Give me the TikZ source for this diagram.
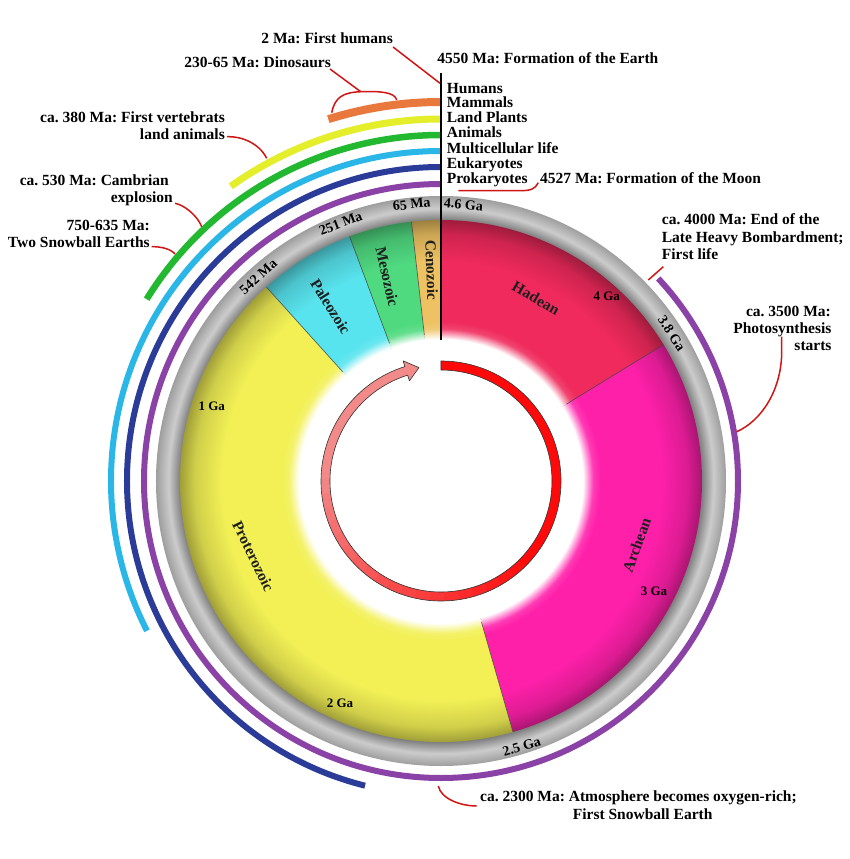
\documentclass[tikz,border=0pt]{standalone}
\usepackage{fontspec}
\setmainfont{Liberation Serif}
\frenchspacing
\definecolor{cHad}{HTML}{F02A5C}
\definecolor{cArc}{HTML}{FF20AA}
\definecolor{cPro}{HTML}{F2F055}
\definecolor{cPal}{HTML}{58E4EE}
\definecolor{cMes}{HTML}{50DA80}
\definecolor{cCen}{HTML}{EEC262}
\definecolor{lPurp}{HTML}{8A42A6}
\definecolor{lBlue}{HTML}{2A3C98}
\definecolor{lCyan}{HTML}{2AB6E6}
\definecolor{lGreen}{HTML}{22B830}
\definecolor{lYell}{HTML}{E4EE2A}
\definecolor{lOran}{HTML}{E8783C}
\definecolor{callred}{HTML}{D01515}
\definecolor{arrowred}{HTML}{FF0A0A}
\definecolor{arrowpink}{HTML}{F28A8A}
\newcommand\eraShade[2]{\pgfdeclareradialshading{#1}{\pgfpointorigin}{color(0bp)=(white); color(13.6bp)=(white); color(14.1bp)=(#2!45!white); color(14.6bp)=(#2!88!white); color(15.3bp)=(#2); color(21bp)=(#2); color(23.6bp)=(#2!86!black); color(25bp)=(#2!66!black); color(50bp)=(#2!66!black)}}
\eraShade{shHad}{cHad}
\eraShade{shArc}{cArc}
\eraShade{shPro}{cPro}
\eraShade{shPal}{cPal}
\eraShade{shMes}{cMes}
\eraShade{shCen}{cCen}
\pgfdeclareradialshading{shGrey}{\pgfpointorigin}{color(0bp)=(black!50); color(22.9bp)=(black!50); color(23.9bp)=(black!20); color(25bp)=(black!38); color(50bp)=(black!38)}
\tikzset{
  lbl/.style={font=\fontsize{15.5}{18}\selectfont\bfseries, inner sep=0pt},
  gal/.style={font=\fontsize{14}{16}\selectfont\bfseries, inner sep=0pt},
  gain/.style={font=\fontsize{13}{15}\selectfont\bfseries, inner sep=0pt},
  eral/.style={font=\fontsize{15.5}{17}\selectfont\bfseries, inner sep=0pt, text=black!88},
  callout/.style={draw=callred, line width=1.5pt},
  lifearc/.style={line cap=butt, line width=6pt},
  bound/.style={draw=black!75, line width=0.7pt, opacity=0.75}
}
\begin{document}
\begin{tikzpicture}[x=1pt,y=1pt]
\useasboundingbox (-441,-378) rectangle (409,481);
\fill[white] (-441,-378) rectangle (409,481);

% life arcs
\draw[lifearc, draw=lPurp] (90:297) arc[start angle=90,end angle=403,radius=297];
\draw[lifearc, draw=lBlue] (90:314) arc[start angle=90,end angle=256,radius=314];
\draw[lifearc, draw=lCyan] (90:330) arc[start angle=90,end angle=207,radius=330];
\draw[lifearc, draw=lGreen, line width=6.5pt] (90:346) arc[start angle=90,end angle=148.3,radius=346];
\draw[lifearc, draw=lYell, line width=7pt] (90:362) arc[start angle=90,end angle=125.5,radius=362];
\draw[lifearc, draw=lOran, line width=8pt] (90:379) arc[start angle=90,end angle=107.3,radius=379];

% grey ring
\shade[shading=shGrey] (0,0) circle (285);

% eras
\foreach \a/\b/\s in {31.5/90/shHad, -74/31.5/shArc, 132/286/shPro, 110.5/132/shPal, 96.5/110.5/shMes, 90/96.5/shCen}{
  \begin{scope}
    \clip (0,0) -- (\a:275) arc[start angle=\a,end angle=\b,radius=275] -- cycle;
    \shade[shading=\s] (0,0) circle (261);
  \end{scope}
}
\fill[white] (0,0) circle (141);
\foreach \a in {31.5,-74,132,110.5,96.5}
  \draw[bound] (\a:147) -- (\a:261);

% vertical line
\draw[line width=2.2pt] (0,141) -- (0,407.7);

% inner arrow
\foreach \i in {0,...,47}{
  \pgfmathsetmacro\aa{90-\i*7.1354}
  \pgfmathsetmacro\ab{90-(\i+1)*7.1354-0.4}
  \pgfmathtruncatemacro\pp{max(0,min(100,(\i-18)*5))}
  \fill[arrowpink!\pp!arrowred] (\aa:120) arc[start angle=\aa,end angle=\ab,radius=120] -- (\ab:111) arc[start angle=\ab,end angle=\aa,radius=111] -- cycle;
}
\fill[arrowpink] (-252.5:126) -- (-259:115.5) -- (-252.5:105) -- cycle;
\draw[line width=0.6pt, black!80, line join=round] (90:120) arc[start angle=90,end angle=-252.5,radius=120] -- (-252.5:126) -- (-259:115.5) -- (-252.5:105) -- (-252.5:111) arc[start angle=-252.5,end angle=90,radius=111] -- cycle;

% era labels
\node[eral, rotate=-30] (nHad) at (95,182.7) {Hadean};
\node[eral, rotate=70] (nArc) at (195.7,-64) {Archean};
\node[eral, rotate=-64] (nPro) at (-187.7,-75) {Proterozoic};
\node[eral, rotate=-58] (nPal) at (-110.3,174.3) {Paleozoic};
\node[eral, rotate=-77] (nMes) at (-53.7,204.3) {Mesozoic};
\node[eral, rotate=-88] (nCen) at (-9.3,211) {Cenozoic};

% Ga labels in grey ring
\node[gal, rotate=-5] (g46) at (22.5,276.5) {4.6 Ga};
\node[gal, rotate=6] (g65) at (-29.3,276.7) {65 Ma};
\node[gal, rotate=21] (g251) at (-100.3,257.7) {251 Ma};
\node[gal, rotate=42] (g542) at (-182.7,204.3) {542 Ma};
\node[gal, rotate=-57] (g38) at (230.7,147.7) {3.8 Ga};
\node[gal, rotate=17] (g25) at (80.7,-265.7) {2.5 Ga};

% inner Ga labels
\node[gain] (i4) at (165.7,184.3) {4 Ga};
\node[gain] (i1) at (-229.3,75) {1 Ga};
\node[gain] (i2) at (-101,-222.3) {2 Ga};
\node[gain] (i3) at (213,-110) {3 Ga};

% life stack labels
\node[lbl, anchor=base west] (sHum) at (5.7,387) {Humans};
\node[lbl, anchor=base west] (sMam) at (5.7,373.7) {Mammals};
\node[lbl, anchor=base west] (sLand) at (5.7,358.7) {Land Plants};
\node[lbl, anchor=base west] (sAni) at (5.7,343.7) {Animals};
\node[lbl, anchor=base west] (sMul) at (5.7,327.7) {Multicellular life};
\node[lbl, anchor=base west] (sEuk) at (5.7,312) {Eukaryotes};
\node[lbl, anchor=base west] (sPro) at (5.7,297) {Prokaryotes};

% event labels
\node[lbl, anchor=base east] (t2ma) at (-48,437) {2 Ma: First humans};
\node[lbl, anchor=base east] (tdino) at (-110,413.3) {230-65 Ma: Dinosaurs};
\node[lbl, anchor=base west] (tearth) at (-3.7,417.7) {4550 Ma: Formation of the Earth};
\node[lbl, anchor=base east] (t380a) at (-216,358.7) {ca. 380 Ma: First vertebrats};
\node[lbl, anchor=base east] (t380b) at (-216,341.7) {land animals};
\node[lbl, anchor=base east] (t530a) at (-272,295) {ca. 530 Ma: Cambrian};
\node[lbl, anchor=base east] (t530b) at (-268,278.3) {explosion};
\node[lbl, anchor=base east] (t750a) at (-291,250.3) {750-635 Ma:};
\node[lbl, anchor=base east] (t750b) at (-291,233) {Two Snowball Earths};
\node[lbl, anchor=base west] (tmoon) at (99,297) {4527 Ma: Formation of the Moon};
\node[lbl, anchor=base west] (t4000a) at (220.7,256) {ca. 4000 Ma: End of the};
\node[lbl, anchor=base west] (t4000b) at (220.7,238.3) {Late Heavy Bombardment;};
\node[lbl, anchor=base west] (t4000c) at (220.7,221) {First life};
\node[lbl, anchor=base east] (t3500a) at (390,164.3) {ca. 3500 Ma:};
\node[lbl, anchor=base east] (t3500b) at (390.7,147.7) {Photosynthesis};
\node[lbl, anchor=base east] (t3500c) at (390.7,130) {starts};
\node[lbl, anchor=base west] (t2300a) at (39,-320.7) {ca. 2300 Ma: Atmosphere becomes oxygen-rich;};
\node[lbl, anchor=base west] (t2300b) at (131.7,-338.3) {First Snowball Earth};

% connector end points
\coordinate (eHum) at (-1,397.7);
\coordinate (eDinoL) at (-109.3,368.3);
\coordinate (eDinoM) at (-80.3,389.3);
\coordinate (eDinoR) at (-44.3,381);
\coordinate (eLand) at (-174.3,322.7);
\coordinate (eCamb) at (-239.3,254.3);
\coordinate (eSnow) at (-266,227);
\coordinate (eMoon) at (17.3,290.3);
\coordinate (eLHB) at (207.3,201);
\coordinate (ePhoto) at (295.7,49.3);
\coordinate (eOxy) at (-2.7,-305);

% connectors
\draw[callout] ([yshift=-3pt]t2ma.base east) -- (eHum);
\draw[callout] ([shift={(-1pt,-1.3pt)}]tdino.base east) -- (eDinoM);
\draw[callout] (eDinoL) .. controls (-106,384) and (-98,388.5) .. (eDinoM) .. controls (-62,390) and (-46,389) .. (eDinoR);
\draw[callout] ([shift={(2pt,2.6pt)}]t380b.base east) .. controls (-200,345) and (-182,338) .. (eLand);
\draw[callout] ([shift={(2pt,-0.6pt)}]t530b.base east) .. controls (-257,276) and (-244,266) .. (eCamb);
\draw[callout] ([shift={(1.7pt,1.3pt)}]t750b.base east) .. controls (-280,234.5) and (-270,232) .. (eSnow);
\draw[callout] ([shift={(-1.7pt,1.3pt)}]tmoon.base west) .. controls (94,292) and (90,290.3) .. (79,290.3) -- (eMoon);
\draw[callout] ([shift={(1.6pt,-6.7pt)}]t4000c.base west) -- (eLHB);
\draw[callout] ([shift={(-50pt,-3.4pt)}]t3500b.base east) -- ++(0,-16.6) .. controls (340,90) and (320,60) .. (ePhoto);
\draw[callout] ([shift={(-3.3pt,-4.3pt)}]t2300a.base west) .. controls (20,-325) and (0,-318) .. (eOxy);
\end{tikzpicture}
\end{document}
